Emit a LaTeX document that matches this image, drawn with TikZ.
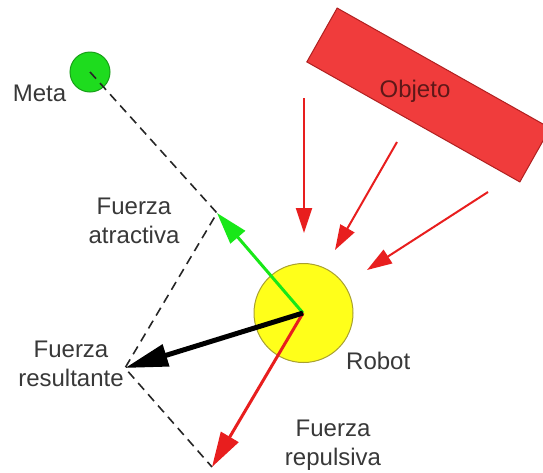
\documentclass[tikz,border=0pt]{standalone}
\usepackage{fontspec}
\setmainfont{Liberation Sans}
\usetikzlibrary{arrows.meta}
\definecolor{txtgrey}{HTML}{383838}
\definecolor{objred}{HTML}{F03C3C}
\definecolor{objedge}{HTML}{B02020}
\definecolor{objtext}{HTML}{5E1818}
\definecolor{arrred}{HTML}{E81E1E}
\definecolor{arrgreen}{HTML}{18E818}
\definecolor{metagreen}{HTML}{1EDC1E}
\definecolor{metaedge}{HTML}{18A018}
\definecolor{robyellow}{HTML}{FFFF1A}
\definecolor{robedge}{HTML}{A8A030}
\tikzset{
  lbl/.style={inner sep=0pt, text=txtgrey, font=\fontsize{24}{29}\selectfont},
  twolbl/.style={lbl, align=center, anchor=north},
  helpline/.style={draw=black!85, line width=1.6pt, dash pattern=on 9pt off 6pt},
  attract/.style={draw=arrgreen, line width=3pt, -{Triangle[length=32pt,width=19pt]}},
  repel/.style={draw=arrred, line width=3pt, -{Triangle[length=35pt,width=20pt]}},
  result/.style={draw=black, line width=5pt, -{Triangle[length=43pt,width=22pt]}},
  push/.style={draw=arrred, line width=2pt, -{Triangle[length=25pt,width=16pt]}}
}
\begin{document}
\begin{tikzpicture}[x=1pt,y=-1pt]
\useasboundingbox (0,0) rectangle (543,472);
\clip (0,0) rectangle (543,472);
% object
\node (obj) [draw=objedge, fill=objred, line width=1pt, rotate=-29.4,
  minimum width=244.5pt, minimum height=61.8pt, inner sep=0pt] at (428.5,95) {};
\node (objlbl) [lbl, text=objtext, anchor=base] at (415,97) {Objeto};
% goal
\node (meta) [circle, draw=metaedge, fill=metagreen, line width=1pt,
  minimum size=40pt, inner sep=0pt] at (90,72) {};
\node (metalbl) [lbl, anchor=base] at (39.5,101) {Meta};
% robot
\node (robot) [circle, draw=robedge, fill=robyellow, line width=1pt,
  minimum size=99pt, inner sep=0pt] at (303.5,313) {};
\node (roblbl) [lbl, anchor=base west] at (346,369) {Robot};
% force end points
\coordinate (A) at (217,213);
\coordinate (R) at (212,467);
\coordinate (S) at (125,368);
\coordinate (O) at (303,313);
% dashed construction
\draw[helpline] (meta.center) -- (A) -- (S) -- (R);
% forces
\draw[attract] (O) -- (A);
\draw[repel] (O) -- (R);
\draw[result] (O) -- (S);
% object pushes
\coordinate (p1s) at (304,98);  \coordinate (p1e) at (304,233);
\coordinate (p2s) at (397,142); \coordinate (p2e) at (335,250);
\coordinate (p3s) at (488,192); \coordinate (p3e) at (367,270);
\draw[push] (p1s) -- (p1e);
\draw[push] (p2s) -- (p2e);
\draw[push] (p3s) -- (p3e);
% labels
\node (fatr) [twolbl] at (134,198) {Fuerza\\atractiva};
\node (fres) [twolbl] at (71,341) {Fuerza\\resultante};
\node (frep) [twolbl] at (333,420) {Fuerza\\repulsiva};
\end{tikzpicture}
\end{document}
